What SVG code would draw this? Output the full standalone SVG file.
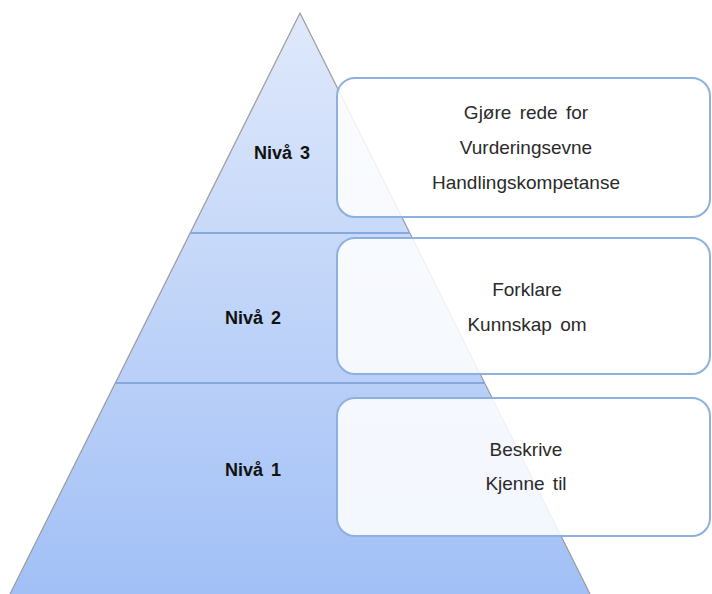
<svg xmlns="http://www.w3.org/2000/svg" width="712" height="594" viewBox="0 0 712 594">
<defs>
<linearGradient id="pg" x1="0" y1="0" x2="0" y2="1">
<stop offset="0" stop-color="#dfe9fb"/>
<stop offset="1" stop-color="#a2c0f6"/>
</linearGradient>
<style>
.lvl{font-family:"Liberation Sans",Arial,sans-serif;font-weight:bold;font-size:18px;fill:#111;text-anchor:middle;word-spacing:3px}
.box rect{fill:#ffffff;fill-opacity:0.86;stroke:#8eb0df;stroke-width:2}
.box text{font-family:"Liberation Sans",Arial,sans-serif;font-size:19px;fill:#2a2a2a;text-anchor:middle;word-spacing:3px}
.div{stroke:#86a9db;stroke-width:2}
</style>
</defs>
<rect width="712" height="594" fill="#ffffff"/>
<g id="pyramid">
<polygon points="300,13 590,594 10,594" fill="url(#pg)"/>
<polyline points="10,594 300,13 590,594" fill="none" stroke="#9a9a9a" stroke-width="1.2"/>
<line class="div" x1="190" y1="233" x2="410" y2="233"/>
<line class="div" x1="115" y1="383" x2="485" y2="383"/>
</g>
<g id="level3"><text class="lvl" x="282" y="159">Nivå 3</text></g>
<g id="level2"><text class="lvl" x="253" y="324">Nivå 2</text></g>
<g id="level1"><text class="lvl" x="253" y="476">Nivå 1</text></g>
<g id="box3" class="box">
<rect x="337" y="78" width="373" height="139" rx="18"/>
<text x="526" y="119">Gjøre rede for</text>
<text x="526" y="154">Vurderingsevne</text>
<text x="526" y="189">Handlingskompetanse</text>
</g>
<g id="box2" class="box">
<rect x="337" y="238" width="373" height="136" rx="18"/>
<text x="527" y="296">Forklare</text>
<text x="527" y="331">Kunnskap om</text>
</g>
<g id="box1" class="box">
<rect x="337" y="398" width="373" height="138" rx="18"/>
<text x="526" y="456">Beskrive</text>
<text x="526" y="490">Kjenne til</text>
</g>
<g id="connectors"></g>
</svg>
